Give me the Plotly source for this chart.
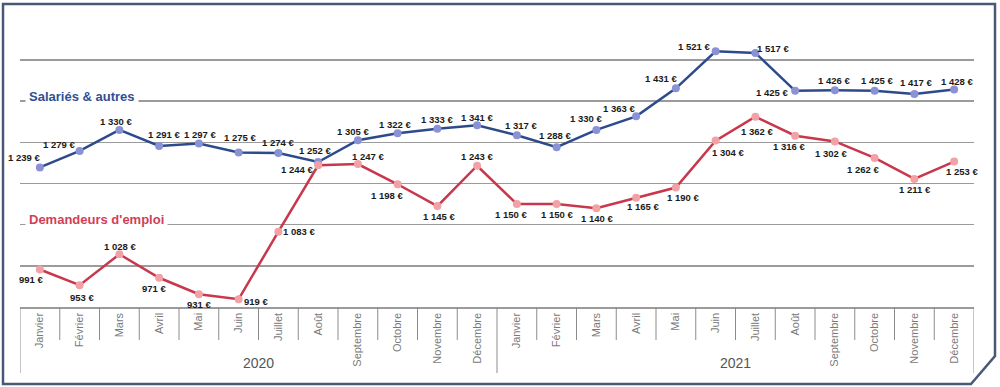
import plotly.graph_objects as go

# ---------------- data ----------------
years = ["2020", "2021"]
months = ["Janvier", "Février", "Mars", "Avril", "Mai", "Juin", "Juillet",
          "Août", "Septembre", "Octobre", "Novembre", "Décembre"]
salaries = [1239, 1279, 1330, 1291, 1297, 1275, 1274, 1252, 1305, 1322, 1333, 1341,
            1317, 1288, 1330, 1363, 1431, 1521, 1517, 1425, 1426, 1425, 1417, 1428]
demandeurs = [991, 953, 1028, 971, 931, 919, 1083, 1244, 1247, 1198, 1145, 1243,
              1150, 1150, 1140, 1165, 1190, 1304, 1362, 1316, 1302, 1262, 1211, 1253]
series_names = ["Salariés & autres", "Demandeurs d'emploi"]

# label offsets (style: pixel shifts of each value label from its point)
sal_off = [(-16, 10), (-21, 6), (-3, 8), (5, 11), (1, 9), (1, 15), (0, 10), (-3, 12),
           (-5, 9), (-3, 9), (0, 9), (0, 8), (4, 10), (-2, 12), (-10, 11), (-17, 8),
           (-15, 10), (-22, 5), (18, 4), (-23, -2), (-1, 10), (2, 10), (2, 12), (3, 8)]
dem_off = [(-9, -10), (2, -12), (1, 8), (-5, -11), (0, -10), (17, -2), (21, 0), (-21, -4),
           (10, 8), (-11, -11), (2, -10), (0, 9), (-6, -10), (0, -10), (1, -10), (7, -9),
           (7, -10), (12, -12), (2, -15), (-6, -11), (-4, -12), (-12, -12), (1, -11), (8, -10)]

cats = [f"{m} {y}" for y in years for m in months]
ticktext = [m for y in years for m in months]

# ---------------- layout geometry ----------------
W, H = 1000, 387
ML, MR, MT, MB = 20, 26, 22, 80
PW, PH = W - ML - MR, H - MT - MB


def px(xpix):
    return (xpix - ML) / PW


def py(ypix):
    return (H - MB - ypix) / PH


BLUE = "#2c4a8c"
BLUE_M = "#8a92d6"
RED = "#c8374b"
RED_M = "#f2a2a6"
GRID = "#9b9b9b"
LABEL_FONT = "Liberation Sans, Arial, sans-serif"

fig = go.Figure()
fig.add_trace(go.Scatter(x=cats, y=salaries, mode="lines+markers", name=series_names[0],
                         line=dict(color=BLUE, width=2.5),
                         marker=dict(color=BLUE_M, size=8), hoverinfo="skip", cliponaxis=False))
fig.add_trace(go.Scatter(x=cats, y=demandeurs, mode="lines+markers", name=series_names[1],
                         line=dict(color=RED, width=2.5),
                         marker=dict(color=RED_M, size=8), hoverinfo="skip", cliponaxis=False))


def fmt(v):
    s = f"{v:,}".replace(",", " ")
    return f"{s} €"


annotations = []
for vals, offs in ((salaries, sal_off), (demandeurs, dem_off)):
    for c, v, (dx, dy) in zip(cats, vals, offs):
        annotations.append(dict(x=c, y=v, xref="x", yref="y", text=fmt(v), showarrow=False,
                                xshift=dx, yshift=dy,
                                font=dict(family=LABEL_FONT, size=9.5, color="#1a1a1a", weight="bold")))

# series titles (with white background hiding the gridline)
annotations.append(dict(x=px(25), y=py(96), xref="paper", yref="paper", xanchor="left",
                        yanchor="middle", text="<b>" + series_names[0] + "</b>", showarrow=False,
                        bgcolor="white", borderpad=3,
                        font=dict(family=LABEL_FONT, size=13, color="#2f4f94")))
annotations.append(dict(x=px(25), y=py(220), xref="paper", yref="paper", xanchor="left",
                        yanchor="middle", text="<b>" + series_names[1] + "</b>", showarrow=False,
                        bgcolor="white", borderpad=3,
                        font=dict(family=LABEL_FONT, size=13, color="#d23f55")))

# year labels centred under their month groups
n = len(months)
for k, yr in enumerate(years):
    annotations.append(dict(x=k * n + (n - 1) / 2, y=py(363), xref="x", yref="paper",
                            xanchor="center", yanchor="middle",
                            text=yr, showarrow=False,
                            font=dict(family="Liberation Sans, Arial, sans-serif", size=14,
                                      color="#555555")))

shapes = []
# month separators
for i in range(1, len(cats)):
    if i % n == 0:
        continue
    shapes.append(dict(type="line", xref="x", yref="paper", x0=i - 0.5, x1=i - 0.5,
                       y0=0, y1=py(340), line=dict(color="#8c8c8c", width=1)))
# year dividers
for k in range(len(years) + 1):
    xb = k * n - 0.5
    shapes.append(dict(type="line", xref="x", yref="paper", x0=xb, x1=xb,
                       y0=0, y1=py(373), line=dict(color="#8c8c8c", width=1)))
# outer frame with clipped corner
path = (f"M {px(3)},{py(4)} L {px(995)},{py(4)} L {px(995)},{py(356)} "
        f"L {px(971)},{py(384)} L {px(3)},{py(384)} Z")
shapes.append(dict(type="path", xref="paper", yref="paper", path=path,
                   line=dict(color="#4a5878", width=2.5)))

fig.update_layout(
    width=W, height=H,
    margin=dict(l=ML, r=MR, t=MT, b=MB),
    paper_bgcolor="white", plot_bgcolor="white",
    showlegend=False,
    annotations=annotations,
    shapes=shapes,
    xaxis=dict(type="category", categoryorder="array", categoryarray=cats,
               range=[-0.5, len(cats) - 0.5],
               tickmode="array", tickvals=cats, ticktext=ticktext,
               tickangle=-90, ticks="", showgrid=False,
               showline=True, linecolor=GRID, linewidth=1.5,
               tickfont=dict(family="Liberation Sans, Arial, sans-serif", size=11, color="#7a7a7a")),
    yaxis=dict(range=[900, 1592], dtick=100, tick0=900, showticklabels=False,
               showgrid=True, gridcolor=GRID, gridwidth=1.5, zeroline=False,
               showline=False),
)

fig.write_html("out.html", config={"staticPlot": True},
               post_script="document.body.style.margin='0px';document.body.style.overflow='hidden';")
